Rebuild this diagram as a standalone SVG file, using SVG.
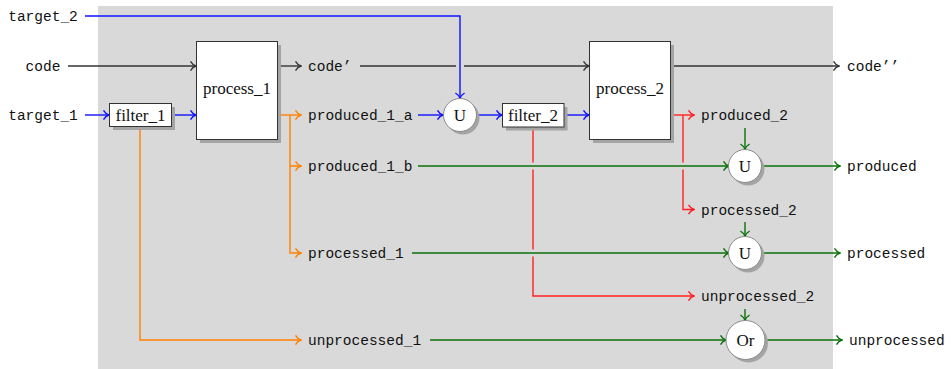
<svg xmlns="http://www.w3.org/2000/svg" width="952" height="369" viewBox="0 0 952 369">
<style>
.tt{font-family:"Liberation Mono","DejaVu Sans Mono",monospace;font-size:14.5px;fill:#111}
.rm{font-family:"Liberation Serif","DejaVu Serif",serif;font-size:17px;fill:#111;text-anchor:middle}
.box{fill:#fff;stroke:#333;stroke-width:1}
.circ{fill:#fff;stroke:#8a8a8a;stroke-width:1}
.sh{fill:#a4a4a4}
.c{fill:none;stroke-width:1.4}
.k{stroke:#333}
.b{stroke:#1010ff}
.o{stroke:#ff8000}
.r{stroke:#ff2020}
.g{stroke:#0a700a}
</style>
<defs>
<marker id="ak" viewBox="-7 -6 8 12" refX="0" refY="0" markerWidth="8" markerHeight="12" markerUnits="userSpaceOnUse" orient="auto"><path d="M-5.5,-4.6 C-4,-2 -1.8,-0.5 0,0 C-1.8,0.5 -4,2 -5.5,4.6" fill="none" stroke="#333" stroke-width="1.3"/></marker>
<marker id="ab" viewBox="-7 -6 8 12" refX="0" refY="0" markerWidth="8" markerHeight="12" markerUnits="userSpaceOnUse" orient="auto"><path d="M-5.5,-4.6 C-4,-2 -1.8,-0.5 0,0 C-1.8,0.5 -4,2 -5.5,4.6" fill="none" stroke="#1010ff" stroke-width="1.4"/></marker>
<marker id="ao" viewBox="-7 -6 8 12" refX="0" refY="0" markerWidth="8" markerHeight="12" markerUnits="userSpaceOnUse" orient="auto"><path d="M-5.5,-4.6 C-4,-2 -1.8,-0.5 0,0 C-1.8,0.5 -4,2 -5.5,4.6" fill="none" stroke="#ff8000" stroke-width="1.4"/></marker>
<marker id="ar" viewBox="-7 -6 8 12" refX="0" refY="0" markerWidth="8" markerHeight="12" markerUnits="userSpaceOnUse" orient="auto"><path d="M-5.5,-4.6 C-4,-2 -1.8,-0.5 0,0 C-1.8,0.5 -4,2 -5.5,4.6" fill="none" stroke="#ff2020" stroke-width="1.4"/></marker>
<marker id="ag" viewBox="-7 -6 8 12" refX="0" refY="0" markerWidth="8" markerHeight="12" markerUnits="userSpaceOnUse" orient="auto"><path d="M-5.5,-4.6 C-4,-2 -1.8,-0.5 0,0 C-1.8,0.5 -4,2 -5.5,4.6" fill="none" stroke="#0a700a" stroke-width="1.4"/></marker>
</defs>
<rect id="background" x="98" y="6" width="735" height="363" fill="#d9d9d9"/>

<g id="connectors">
<path class="c k" d="M68,66 H196" marker-end="url(#ak)"/>
<path class="c k" d="M277.5,66 H301" marker-end="url(#ak)"/>
<path class="c k" d="M360,66 H456"/>
<path class="c k" d="M464,66 H589" marker-end="url(#ak)"/>
<path class="c k" d="M670.5,66 H839" marker-end="url(#ak)"/>
<path class="c b" d="M85,16 H460 V98.5" marker-end="url(#ab)"/>
<path class="c b" d="M85,115 H109" marker-end="url(#ab)"/>
<path class="c b" d="M171.5,115 H196" marker-end="url(#ab)"/>
<path class="c b" d="M418,115 H443" marker-end="url(#ab)"/>
<path class="c b" d="M476.5,115 H502" marker-end="url(#ab)"/>
<path class="c b" d="M564,115 H589" marker-end="url(#ab)"/>
<path class="c o" d="M277.5,115 H301" marker-end="url(#ao)"/>
<path class="c o" d="M290,115 V166 H301" marker-end="url(#ao)"/>
<path class="c o" d="M290,166 V253 H301" marker-end="url(#ao)"/>
<path class="c o" d="M140,127 V340 H301" marker-end="url(#ao)"/>
<path class="c r" d="M670.5,115 H694" marker-end="url(#ar)"/>
<path class="c r" d="M683,115 V162.5"/>
<path class="c r" d="M683,169.5 V209.5 H694" marker-end="url(#ar)"/>
<path class="c r" d="M533,127 V162.5"/>
<path class="c r" d="M533,169.5 V249.5"/>
<path class="c r" d="M533,256.5 V296 H694" marker-end="url(#ar)"/>
<path class="c g" d="M418,166 H729" marker-end="url(#ag)"/>
<path class="c g" d="M412,253 H729" marker-end="url(#ag)"/>
<path class="c g" d="M430,340 H726" marker-end="url(#ag)"/>
<path class="c g" d="M745,128 V149.5" marker-end="url(#ag)"/>
<path class="c g" d="M745,222 V236.5" marker-end="url(#ag)"/>
<path class="c g" d="M745,309 V320.5" marker-end="url(#ag)"/>
<path class="c g" d="M761.5,166 H840" marker-end="url(#ag)"/>
<path class="c g" d="M761.5,253 H840" marker-end="url(#ag)"/>
<path class="c g" d="M764.5,340 H842" marker-end="url(#ag)"/>
</g>

<g id="target_2"><text class="tt" x="43" y="21" text-anchor="middle">target_2</text></g>
<g id="code"><text class="tt" x="43" y="71" text-anchor="middle">code</text></g>
<g id="target_1"><text class="tt" x="43" y="120" text-anchor="middle">target_1</text></g>

<g id="filter_1">
<rect class="sh" x="113" y="107" width="62" height="23"/>
<rect class="box" x="109.5" y="103.5" width="62" height="23"/>
<text class="rm" x="140.5" y="121">filter_1</text>
</g>
<g id="process_1">
<rect class="sh" x="200" y="45" width="81" height="98"/>
<rect class="box" x="196.5" y="41.5" width="81" height="98"/>
<text class="rm" x="237" y="94">process_1</text>
</g>

<g id="code_prime"><text class="tt" x="308" y="71">code’</text></g>
<g id="produced_1_a"><text class="tt" x="308" y="120">produced_1_a</text></g>
<g id="produced_1_b"><text class="tt" x="308" y="171">produced_1_b</text></g>
<g id="processed_1"><text class="tt" x="308" y="258">processed_1</text></g>
<g id="unprocessed_1"><text class="tt" x="308" y="345">unprocessed_1</text></g>

<g id="union_1">
<circle class="sh" cx="463" cy="118" r="16.5"/>
<circle class="circ" cx="460" cy="115" r="16.5"/>
<text class="rm" x="460" y="121">U</text>
</g>
<g id="filter_2">
<rect class="sh" x="506" y="107" width="61.5" height="23.5"/>
<rect class="box" x="502.5" y="103.5" width="61.5" height="23.5"/>
<text class="rm" x="533" y="121">filter_2</text>
</g>
<g id="process_2">
<rect class="sh" x="593" y="45" width="81" height="98"/>
<rect class="box" x="589.5" y="41.5" width="81" height="98"/>
<text class="rm" x="630" y="94">process_2</text>
</g>

<g id="code_dprime"><text class="tt" x="847" y="71">code’’</text></g>
<g id="produced_2"><text class="tt" x="701" y="120">produced_2</text></g>
<g id="processed_2"><text class="tt" x="701" y="214.5">processed_2</text></g>
<g id="unprocessed_2"><text class="tt" x="701" y="301">unprocessed_2</text></g>

<g id="union_produced">
<circle class="sh" cx="748" cy="169" r="16.5"/>
<circle class="circ" cx="745" cy="166" r="16.5"/>
<text class="rm" x="745" y="172">U</text>
</g>
<g id="union_processed">
<circle class="sh" cx="748" cy="256" r="16.5"/>
<circle class="circ" cx="745" cy="253" r="16.5"/>
<text class="rm" x="745" y="259">U</text>
</g>
<g id="or_unprocessed">
<circle class="sh" cx="748.5" cy="343" r="19.5"/>
<circle class="circ" cx="745.5" cy="340" r="19.5"/>
<text class="rm" x="745.5" y="346">Or</text>
</g>

<g id="produced"><text class="tt" x="847" y="171">produced</text></g>
<g id="processed"><text class="tt" x="847" y="258">processed</text></g>
<g id="unprocessed"><text class="tt" x="849" y="345">unprocessed</text></g>
</svg>
